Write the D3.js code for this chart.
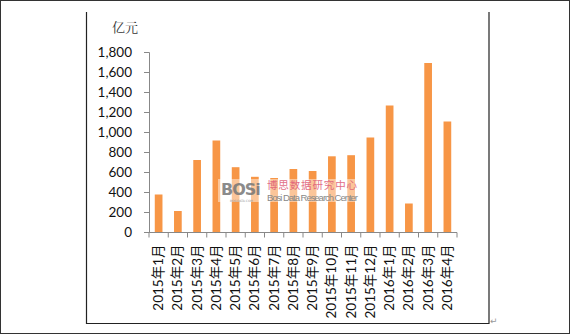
<!DOCTYPE html>
<html><head><meta charset="utf-8">
<script src="https://cdn.jsdelivr.net/npm/d3@7/dist/d3.min.js"></script>
<style>body{margin:0;background:#fff}svg{display:block}</style>
</head><body>
<svg id="c" width="571" height="336"></svg>
<script>
const categories = ["2015年1月","2015年2月","2015年3月","2015年4月","2015年5月","2015年6月","2015年7月","2015年8月","2015年9月","2015年10月","2015年11月","2015年12月","2016年1月","2016年2月","2016年3月","2016年4月"];
const values = [375, 210, 720, 915, 648, 552, 540, 630, 610, 757, 768, 945, 1265, 285, 1690, 1105];
const yTicks = [0, 200, 400, 600, 800, 1000, 1200, 1400, 1600, 1800];
const unitLabel = "亿元";

const svg = d3.select("#c");
const font = "Lato, 'Noto Sans CJK SC', sans-serif";

// frames
svg.append("rect").attr("x",0.5).attr("y",0.5).attr("width",569).attr("height",333)
  .attr("fill","none").attr("stroke","#333").attr("stroke-width",1);
const frame = svg.append("g").attr("stroke","#222").attr("stroke-width",1.2).attr("fill","none");
frame.append("path").attr("d","M86.5,12V323.5H489V12");
svg.append("text").attr("x",490).attr("y",324).attr("font-size",9).attr("fill","#999")
  .attr("font-family","DejaVu Sans").text("↵");

const x = d3.scaleBand().domain(categories).range([149, 457]).paddingInner(0.6).paddingOuter(0.3);
const y = d3.scaleLinear().domain([0, 1800]).range([232, 52]);

// bars
svg.append("g").selectAll("rect").data(values).join("rect")
  .attr("x",(d,i)=>x(categories[i])).attr("width",x.bandwidth())
  .attr("y",d=>y(d)).attr("height",d=>y(0)-y(d)).attr("fill","#F79646");

// y axis
const ya = svg.append("g").attr("transform","translate(149,0)")
  .call(d3.axisLeft(y).tickValues(yTicks).tickSize(5).tickPadding(12).tickFormat(d3.format(",")));
ya.select(".domain").attr("stroke","#888").attr("d","M-5,52.5H0.5V232.5");
ya.selectAll(".tick line").attr("stroke","#888");
ya.selectAll("text").attr("font-family",font).attr("font-size",13.5).attr("fill","#111");

// x axis
const xa = svg.append("g").attr("transform","translate(0,232.5)");
xa.append("line").attr("x1",149).attr("x2",457).attr("stroke","#888");
xa.selectAll("line.t").data(d3.range(categories.length+1)).join("line").attr("class","t")
  .attr("x1",i=>149+i*(308/categories.length)).attr("x2",i=>149+i*(308/categories.length))
  .attr("y1",0).attr("y2",5).attr("stroke","#888");
xa.selectAll("text").data(categories).join("text")
  .attr("transform",d=>`translate(${x(d)+x.bandwidth()/2+4.5},12) rotate(-90)`)
  .attr("text-anchor","end").attr("font-family",font).attr("font-size",13.5).attr("fill","#111")
  .text(d=>d);

// unit label
svg.append("text").attr("x",125).attr("y",32).attr("text-anchor","middle")
  .attr("font-family","'Noto Serif CJK SC','Noto Sans CJK SC',serif").attr("font-size",13).attr("fill","#333").text(unitLabel);

// watermark
const wm = svg.append("g");
wm.append("rect").attr("x",218).attr("y",179).attr("width",146).attr("height",23).attr("fill","#fff").attr("opacity",0.45);
wm.append("text").attr("x",221).attr("y",195).attr("font-family","'DejaVu Sans'").attr("font-weight","bold")
  .attr("font-size",16).attr("fill","#777").attr("opacity",0.85).attr("letter-spacing",-1).text("BOSi");
wm.append("text").attr("x",230).attr("y",201.5).attr("font-family","'DejaVu Sans'")
  .attr("font-size",3).attr("fill","#999").text("BOSIDATA.COM");
wm.append("text").attr("x",267).attr("y",189).attr("font-family","'Noto Sans CJK SC'")
  .attr("font-size",10.5).attr("fill","#e0607a").attr("opacity",0.9).attr("textLength",90).text("博思数据研究中心");
wm.append("text").attr("x",267).attr("y",200.5).attr("font-family","'Liberation Sans Narrow','Liberation Sans',sans-serif")
  .attr("font-size",9.5).attr("fill","#888").attr("textLength",91).text("Bosi Data Research Center");
</script>
</body></html>
